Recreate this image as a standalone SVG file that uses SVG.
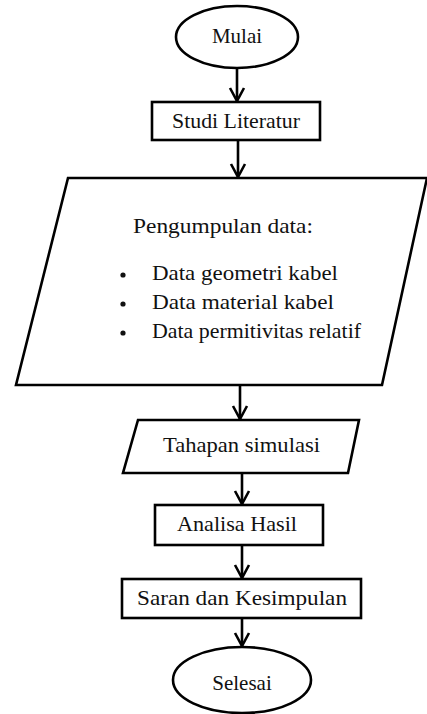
<svg xmlns="http://www.w3.org/2000/svg" width="427" height="714" viewBox="0 0 427 714">
<style>
.s{fill:#fff;stroke:#000;stroke-width:2.6}
.t{font-family:"Liberation Serif","Times New Roman",serif;font-size:21px;fill:#111}
.c{fill:none;stroke:#000;stroke-width:2.6}
</style>
<rect width="427" height="714" fill="#fff"/>
<g id="connectors">
<line class="c" x1="237" y1="68" x2="237" y2="101"/><polyline class="c" points="230,88 237,101 244,88"/>
<line class="c" x1="238" y1="140" x2="238" y2="177"/><polyline class="c" points="231,164 238,177 245,164"/>
<line class="c" x1="240" y1="385" x2="240" y2="419"/><polyline class="c" points="233,406 240,419 247,406"/>
<line class="c" x1="242" y1="473" x2="242" y2="504"/><polyline class="c" points="235,491 242,504 249,491"/>
<line class="c" x1="242" y1="545" x2="242" y2="578"/><polyline class="c" points="235,565 242,578 249,565"/>
<line class="c" x1="242" y1="618" x2="242" y2="646"/><polyline class="c" points="235,633 242,646 249,633"/>
</g>
<g id="mulai"><ellipse class="s" cx="237" cy="37" rx="61" ry="31"/><text class="t" x="237" y="43" text-anchor="middle">Mulai</text></g>
<g id="studi"><rect class="s" x="152" y="102" width="168" height="38"/><text class="t" x="172" y="128" textLength="128" lengthAdjust="spacingAndGlyphs">Studi Literatur</text></g>
<g id="pengumpulan"><polygon class="s" points="68,178 427,178 382,385 16,385"/>
<text class="t" x="133" y="233" textLength="180" lengthAdjust="spacingAndGlyphs">Pengumpulan data:</text>
<circle cx="123" cy="275" r="2.6" fill="#111"/><circle cx="123" cy="304" r="2.6" fill="#111"/><circle cx="123" cy="333" r="2.6" fill="#111"/>
<text class="t" x="152" y="280" textLength="186" lengthAdjust="spacingAndGlyphs">Data geometri kabel</text>
<text class="t" x="152" y="309" textLength="182" lengthAdjust="spacingAndGlyphs">Data material kabel</text>
<text class="t" x="152" y="338" textLength="209" lengthAdjust="spacingAndGlyphs">Data permitivitas relatif</text>
</g>
<g id="tahapan"><polygon class="s" points="138,420 359,420 348,473 123,473"/><text class="t" x="163" y="452" textLength="157" lengthAdjust="spacingAndGlyphs">Tahapan simulasi</text></g>
<g id="analisa"><rect class="s" x="155" y="505" width="168" height="40"/><text class="t" x="177" y="531" textLength="120" lengthAdjust="spacingAndGlyphs">Analisa Hasil</text></g>
<g id="saran"><rect class="s" x="122" y="579" width="239" height="39"/><text class="t" x="137" y="605" textLength="210" lengthAdjust="spacingAndGlyphs">Saran dan Kesimpulan</text></g>
<g id="selesai"><ellipse class="s" cx="242" cy="680" rx="69" ry="33"/><text class="t" x="242" y="690" text-anchor="middle">Selesai</text></g>
</svg>
